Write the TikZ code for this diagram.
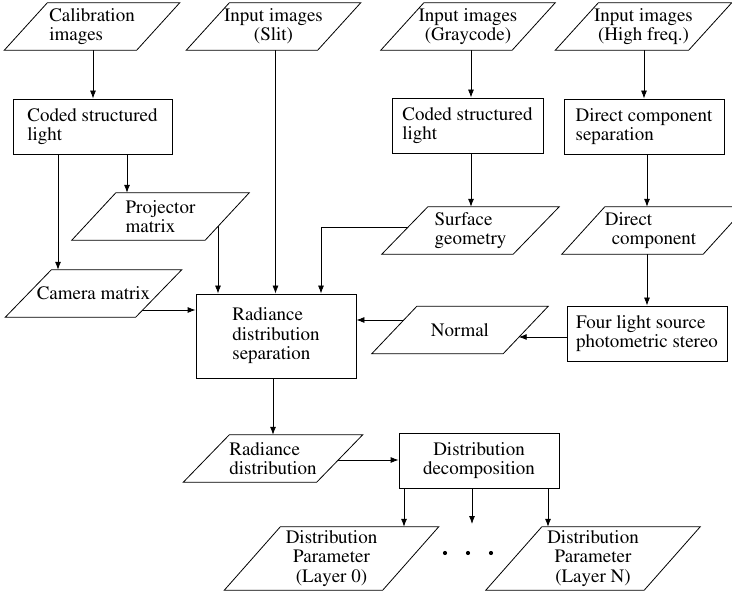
\documentclass[tikz,border=0pt]{standalone}
\usepackage[T1]{fontenc}
\usepackage{times}
\usetikzlibrary{arrows.meta,calc}
\pgfdeclarelayer{bg}
\pgfdeclarelayer{mid}
\pgfsetlayers{bg,mid,main}
\newcommand\drawpara[2]{%
  \begin{pgfonlayer}{mid}
  \draw[paraline] ([xshift=#2]#1.north west) -- ([xshift=#2]#1.north east) -- ([xshift=-#2]#1.south east) -- ([xshift=-#2]#1.south west) -- cycle;
  \end{pgfonlayer}}
\tikzset{
  every node/.style={font=\rmfamily\fontsize{19pt}{19.5pt}\selectfont},
  stepbox/.style={draw, fill=white, line width=0.8pt, minimum width=160pt, minimum height=55pt, inner sep=0pt},
  para/.style={inner sep=0pt, minimum height=47pt},
  paraline/.style={draw, fill=white, line width=0.8pt, line join=miter},
  arr/.style={-{Latex[length=8pt,width=6pt]}, line width=0.8pt},
  dot/.style={circle, fill=black, inner sep=0pt, minimum size=4.2pt}
}
\begin{document}
\begin{tikzpicture}[x=1pt,y=-1pt]
\clip (0,0) rectangle (732,596);
% input parallelograms
\node[para, minimum width=132pt, align=left] (calib) at (92,26.5) {Calibration\\images};
\node[para, minimum width=131pt, align=center] (slit) at (273.5,26.5) {Input images\\(Slit)};
\node[para, minimum width=131pt, align=center] (gray) at (468,26.5) {Input images\\(Graycode)};
\node[para, minimum width=133pt, align=center] (high) at (643.5,26.5) {Input images\\(High freq.)};
% process boxes
\node[stepbox, minimum width=159pt, align=left] (csl1) at (92.5,126.5) {Coded structured\\light};
\node[stepbox, minimum width=151pt, align=left] (csl2) at (467.5,125.5) {Coded structured\\light};
\node[stepbox, align=left] (dcs) at (644,126.5) {Direct component\\separation};
% intermediate data
\node[para, minimum width=133pt, align=left] (proj) at (160.5,216.5) {Projector\\matrix};
\node[para, minimum width=131pt, align=left] (surf) at (470.5,230.5) {Surface\\geometry};
\node[para, minimum width=141pt, align=left] (dcomp) at (654,230.5) {\hspace*{-7pt}Direct\\component};
\node[para, minimum width=130pt] (cam) at (93.5,293.5) {Camera matrix};
\node[para, minimum width=131pt] (normal) at (460,330) {Normal};
\node[stepbox, minimum height=84pt, align=left] (rds) at (276,336) {Radiance\\distribution\\separation};
\node[stepbox, align=left] (fls) at (647,333.5) {Four light source\\photometric stereo};
\node[para, minimum width=133pt, align=left] (radd) at (273,458.5) {Radiance\\distribution};
\node[stepbox, align=center] (dd) at (479,460.5) {Distribution\\decomposition};
\node[para, minimum width=158pt, minimum height=63pt, align=center] (dp0) at (331.5,558.5) {Distribution\\Parameter\\(Layer 0)};
\node[para, minimum width=158pt, minimum height=63pt, align=center] (dpN) at (593,558.5) {Distribution\\Parameter\\(Layer N)};
\node[dot] (d1) at (445,553) {};
\node[dot] (d2) at (468,553) {};
\node[dot] (d3) at (491,553) {};
\coordinate (dotsarrow) at (472,524);
% parallelogram outlines
\drawpara{calib}{21.5pt}
\drawpara{slit}{21.5pt}
\drawpara{gray}{21.5pt}
\drawpara{high}{21.5pt}
\drawpara{proj}{22pt}
\drawpara{surf}{23pt}
\drawpara{dcomp}{21.5pt}
\drawpara{cam}{23pt}
\drawpara{normal}{22.5pt}
\drawpara{radd}{23pt}
\drawpara{dp0}{28pt}
\drawpara{dpN}{28pt}
% connectors
\begin{pgfonlayer}{bg}
\draw[arr] ([xshift=1pt]calib.south) -- ([xshift=1pt]calib.south |- csl1.north);
\draw[arr] ([xshift=2pt]slit.south) -- ([xshift=2pt]slit.south |- rds.north);
\draw[arr] ([xshift=3.5pt]csl2.north |- gray.south) -- ([xshift=3.5pt]csl2.north);
\draw[arr] ([xshift=0.5pt]high.south) -- ([xshift=0.5pt]high.south |- dcs.north);
\draw[arr] ([xshift=34.5pt]csl1.south) -- ([xshift=34.5pt]csl1.south |- proj.north);
\draw[arr] ([xshift=-34.5pt]csl1.south) -- ([xshift=-34.5pt]csl1.south |- cam.north);
\draw[arr] ([xshift=3.5pt]csl2.south) -- ([xshift=3.5pt]csl2.south |- surf.north);
\draw[arr] ([xshift=3pt]dcs.south) -- ([xshift=3pt]dcs.south |- dcomp.north);
\draw[arr] ([xshift=57.5pt]proj.center) -- ([xshift=57.5pt]proj.center |- rds.north);
\draw[arr] ([yshift=3.5pt]surf.center) -| ([xshift=45pt]rds.north);
\draw[arr] (fls.north |- dcomp.south) -- (fls.north);
\draw[arr] ([yshift=-16.5pt]cam.center) -- ([yshift=-16.5pt]cam.center -| rds.west);
\draw[arr] ([yshift=-3.5pt]fls.west) -- ([xshift=58.7pt,yshift=-3.5pt]normal.center |- fls.west);
\draw[arr] ([yshift=10pt]normal.center) -- ([yshift=10pt]normal.center -| rds.east);
\draw[arr] ([xshift=-3pt]rds.south) -- ([xshift=-3pt]rds.south |- radd.north);
\draw[arr] ([yshift=-1.5pt]radd.center) -- ([yshift=-1.5pt]radd.center -| dd.west);
\draw[arr] ([xshift=-75pt]dd.south) -- ([xshift=-75pt]dd.south |- dp0.north);
\draw[arr] (dd.south -| dotsarrow) -- (dotsarrow);
\draw[arr] ([xshift=69pt]dd.south) -- ([xshift=69pt]dd.south |- dpN.north);
\end{pgfonlayer}
\end{tikzpicture}
\end{document}
